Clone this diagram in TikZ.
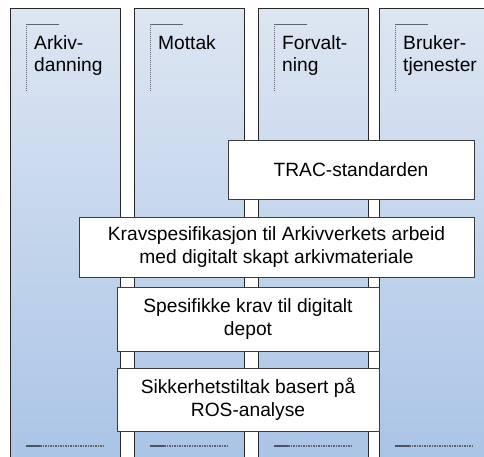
\documentclass[tikz,border=0pt]{standalone}
\usepackage{fontspec}
\setmainfont{Liberation Sans}
\definecolor{lanetop}{RGB}{221,230,242}
\definecolor{lanebot}{RGB}{168,195,230}
\definecolor{laneedge}{RGB}{40,40,40}
\definecolor{boxedge}{RGB}{60,60,60}
\definecolor{markgray}{RGB}{95,100,110}
\definecolor{markdark}{RGB}{75,83,100}
\tikzset{
  lane/.style={draw=laneedge, line width=1.1pt, top color=lanetop, bottom color=lanebot,
    minimum width=110pt, minimum height=470pt, inner sep=0pt, anchor=north west},
  lanelabel/.style={anchor=north west, inner sep=0pt, align=left,
    font=\fontsize{19.2}{22.8}\selectfont},
  stepbox/.style={draw=boxedge, line width=0.8pt, fill=white, inner sep=0pt, align=center,
    font=\fontsize{19.2}{23}\selectfont},
  tabline/.style={markgray, line width=0.9pt},
  tabdots/.style={markgray, line width=1pt, dash pattern=on 1pt off 1pt},
  footdark/.style={markdark, line width=1.6pt},
  footdots/.style={markgray, line width=1.6pt, dash pattern=on 1.5pt off 1pt}
}
\begin{document}
\begin{tikzpicture}[x=1pt, y=-1pt]
\useasboundingbox (0,0) rectangle (484,456);
\clip (0,0) rectangle (484,456);
\fill[white] (0,0) rectangle (484,456);

% four lanes
\foreach \n/\l in {1/10, 2/134, 3/258, 4/379} {
  \node[lane] (lane\n) at (\l,8) {};
  % header tab mark
  \coordinate (tabA\n) at (\l+16,24);
  \coordinate (tabB\n) at (\l+49,24);
  \coordinate (tabC\n) at (\l+16,91);
  \draw[tabline] (tabA\n) -- (tabB\n);
  \draw[tabdots] (tabA\n) -- (tabC\n);
  % footer mark
  \coordinate (footA\n) at (\l+16,446);
  \coordinate (footB\n) at (\l+30,446);
  \coordinate (footC\n) at (\l+95,446);
  \draw[footdots] (footB\n) -- (footC\n);
  \draw[footdark] (footA\n) -- (footB\n);
}

% lane headings
\node[lanelabel] (head1) at (34,35) {Arkiv-\\danning};
\node[lanelabel] (head2) at (158,35) {Mottak};
\node[lanelabel] (head3) at (282,35) {Forvalt-\\ning};
\node[lanelabel] (head4) at (403,35) {Bruker-\\tjenester};

% requirement boxes
\node[stepbox, minimum width=246pt, minimum height=59pt] (trac) at (351,169.5) {TRAC-standarden};
\node[stepbox, minimum width=395pt, minimum height=60pt] (krav) at (276.5,247)
  {Kravspesifikasjon til Arkivverkets arbeid\\med digitalt skapt arkivmateriale};
\node[stepbox, minimum width=262pt, minimum height=64pt] (depot) at (248,319)
  {Spesifikke krav til digitalt\\depot};
\node[stepbox, minimum width=262pt, minimum height=63pt] (ros) at (248,399.5)
  {Sikkerhetstiltak basert på\\ROS-analyse};
\end{tikzpicture}
\end{document}
